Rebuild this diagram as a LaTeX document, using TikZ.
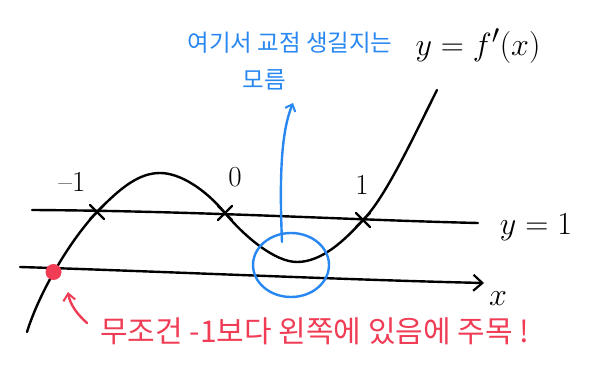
\documentclass[tikz,border=0pt]{standalone}
\usepackage{fontspec}
\newfontfamily\kr{Noto Sans CJK KR}
\usetikzlibrary{arrows.meta}
\definecolor{hblue}{RGB}{40,135,240}
\definecolor{hred}{RGB}{240,60,85}
\begin{document}
\begin{tikzpicture}[x=1pt,y=-1pt,line cap=round,line join=round,
  ink/.style={line width=2.4pt,black},
  blueink/.style={line width=2.4pt,hblue},
  redink/.style={line width=2.4pt,hred},
  crossmark/.style={line width=2.2pt,black},
  lbl/.style={font=\fontsize{29}{31}\selectfont,inner sep=0pt},
  bluetxt/.style={font=\kr\fontsize{23.5}{26}\selectfont,text=hblue,inner sep=0pt},
  redtxt/.style={font=\kr\fontsize{30}{33}\selectfont,text=hred,inner sep=0pt},
  bigmath/.style={font=\Huge,scale=1.29,inner sep=0pt}]
\useasboundingbox (0,0) rectangle (605,379);
% coordinates
\coordinate (l1s) at (32,210);
\coordinate (l1e) at (478,223);
\coordinate (xs) at (20,267);
\coordinate (xe) at (484,283);
\coordinate (pm1) at (97,212);
\coordinate (p0) at (225,213);
\coordinate (p1) at (363,220);
\coordinate (dot) at (53.5,272);
% lines
\draw[ink] (l1s) .. controls (200,211) and (350,220) .. (l1e);
\draw[ink,-{Straight Barb[length=9pt,width=16pt,line width=2.2pt]}] (xs) .. controls (150,271) and (350,280) .. (xe);
% curve y = f'(x)
\draw[ink] (27,332) .. controls (40,290) and (72,238) .. (pm1)
  .. controls (122,186) and (140,173) .. (160,173)
  .. controls (180,173) and (205,189) .. (p0)
  .. controls (245,237) and (275,262) .. (297,262)
  .. controls (322,262) and (345,240) .. (p1)
  .. controls (385,198) and (412,140) .. (437,90);
% cross marks
\foreach \p in {pm1,p0,p1}{
  \draw[crossmark] ([shift={(-7,-7)}]\p) -- ([shift={(7,7)}]\p);
  \draw[crossmark] ([shift={(-7,7)}]\p) -- ([shift={(7,-7)}]\p);
}
% labels
\node[lbl,anchor=base] (lm1) at (72,192) {--1};
\node[lbl,anchor=base] (l0) at (235,187) {0};
\node[lbl,anchor=base] (lp1) at (362,195) {1};
\node[bigmath] (fx) at (478,46) {$y=f'(x)$};
\node[bigmath] (y1) at (536,227) {$y=1$};
\node[bigmath] (xl) at (498,299) {$x$};
% red dot
\fill[hred] (dot) circle (8);
% blue circle and arrow
\draw[blueink] (291,265) ellipse (38 and 32);
\node[bluetxt] (bt1) at (290,43) {여기서 교점 생길지는};
\node[bluetxt] (bt2) at (264,80) {모름};
\coordinate (bstart) at (282,242);
\coordinate (btip) at (293,103);
\draw[blueink,-{Straight Barb[length=6pt,width=11pt,line width=2pt]}] (bstart) .. controls (279,170) and (282,130) .. (btip);
% red text and arrow
\node[redtxt,anchor=west] (rt) at (100,331) {무조건 -1보다 왼쪽에 있음에 주목 !};
\coordinate (rtail) at (87,323);
\coordinate (rtip) at (68,292);
\draw[redink,-{Straight Barb[length=7pt,width=12pt,line width=2pt]}] (rtail) .. controls (78,315) and (70,305) .. (rtip);
\end{tikzpicture}
\end{document}
